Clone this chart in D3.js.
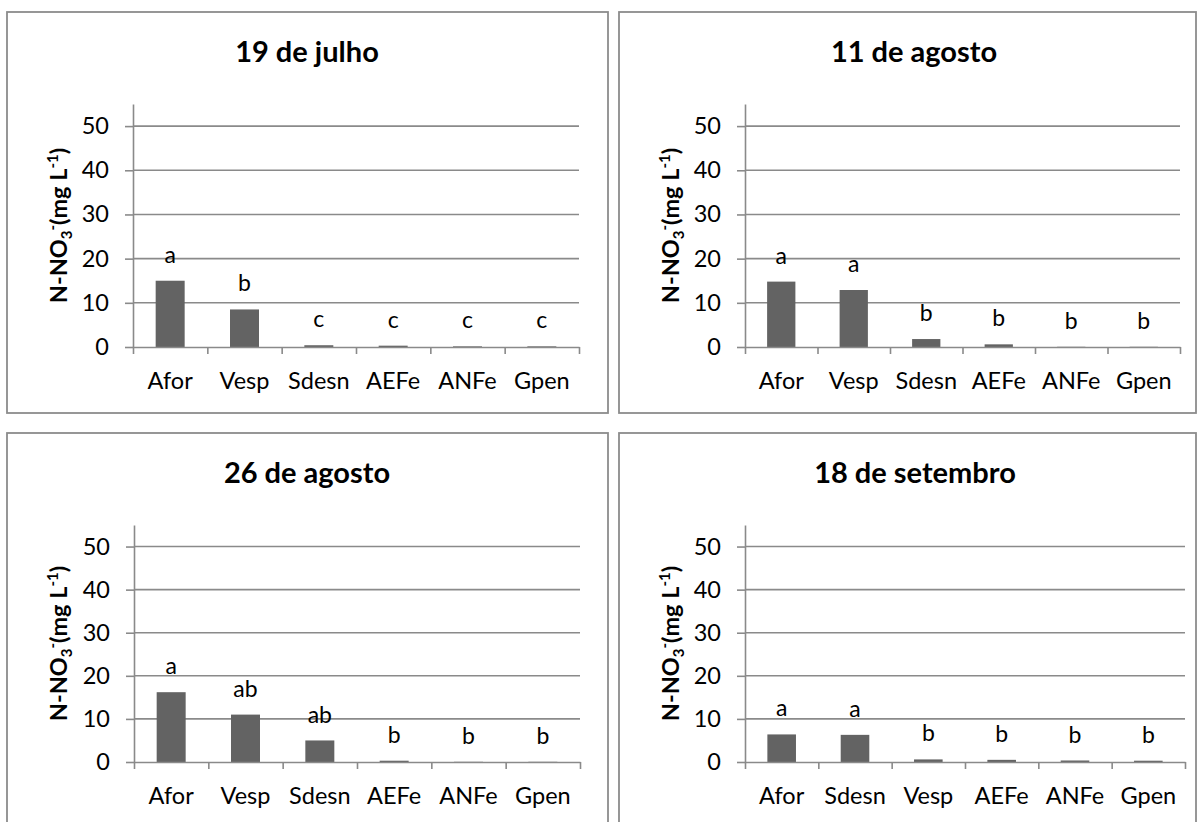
<!DOCTYPE html>
<html>
<head>
<meta charset="utf-8">
<script src="https://cdn.jsdelivr.net/npm/d3@7"></script>
<style>
  html, body { margin: 0; padding: 0; background: #fff; }
  svg { display: block; font-family: Lato, "Open Sans", sans-serif; }
</style>
</head>
<body>
<svg id="chart" width="1200" height="822"></svg>
<script>
// N-NO3- concentrations per treatment at four sampling dates
const titles = ["19 de julho", "11 de agosto", "26 de agosto", "18 de setembro"];

const categoriesJul19 = ["Afor", "Vesp", "Sdesn", "AEFe", "ANFe", "Gpen"];
const valuesJul19     = [15.0, 8.5, 0.4, 0.3, 0.15, 0.15];
const lettersJul19    = ["a", "b", "c", "c", "c", "c"];

const categoriesAug11 = ["Afor", "Vesp", "Sdesn", "AEFe", "ANFe", "Gpen"];
const valuesAug11     = [14.8, 12.9, 1.8, 0.6, 0.05, 0.05];
const lettersAug11    = ["a", "a", "b", "b", "b", "b"];

const categoriesAug26 = ["Afor", "Vesp", "Sdesn", "AEFe", "ANFe", "Gpen"];
const valuesAug26     = [16.2, 11.0, 5.0, 0.3, 0.05, 0.05];
const lettersAug26    = ["a", "ab", "ab", "b", "b", "b"];

const categoriesSep18 = ["Afor", "Sdesn", "Vesp", "AEFe", "ANFe", "Gpen"];
const valuesSep18     = [6.4, 6.3, 0.6, 0.5, 0.35, 0.3];
const lettersSep18    = ["a", "a", "b", "b", "b", "b"];

const yTickValues = [0, 10, 20, 30, 40, 50];
const yMax = 55;

// box: frame [x, y, w, h]; plot: [left, right, zero line, top of axis]; tc: title centre
const panels = [
  { title: titles[0], cats: categoriesJul19, vals: valuesJul19, letters: lettersJul19,
    box: [7, 12, 601, 401], plot: [133, 579, 347, 104], tc: 307 },
  { title: titles[1], cats: categoriesAug11, vals: valuesAug11, letters: lettersAug11,
    box: [619, 12, 577, 401], plot: [745, 1180, 347, 104], tc: 914 },
  { title: titles[2], cats: categoriesAug26, vals: valuesAug26, letters: lettersAug26,
    box: [7, 433, 601, 401], plot: [134, 580, 762, 525], tc: 307 },
  { title: titles[3], cats: categoriesSep18, vals: valuesSep18, letters: lettersSep18,
    box: [619, 433, 577, 401], plot: [745, 1185, 762, 525], tc: 915 }
];

const svg = d3.select("#chart");
const gridColor = "#8a8a8a";
const barColor = "#636363";

panels.forEach(p => {
  const [bx, by, bw, bh] = p.box;
  const [xl, xr, y0, yTop] = p.plot;
  const g = svg.append("g");

  // chart frame
  g.append("rect")
    .attr("x", bx).attr("y", by).attr("width", bw).attr("height", bh)
    .attr("fill", "#fff").attr("stroke", "#8c8c8c").attr("stroke-width", 1.8);

  // title
  g.append("text")
    .attr("x", p.tc).attr("y", by + 50)
    .attr("text-anchor", "middle")
    .attr("font-size", 29).attr("font-weight", 700)
    .attr("fill", "#000")
    .text(p.title);

  const y = d3.scaleLinear().domain([0, yMax]).range([y0, yTop]);
  const x = d3.scaleBand().domain(p.cats).range([xl, xr])
    .paddingInner(0.61).paddingOuter(0.305);
  const slots = d3.scaleLinear().domain([0, p.cats.length]).range([xl, xr]);

  // horizontal gridlines
  g.append("g").selectAll("line")
    .data(yTickValues.filter(v => v > 0))
    .join("line")
    .attr("x1", xl).attr("x2", xr)
    .attr("y1", d => y(d)).attr("y2", d => y(d))
    .attr("stroke", gridColor).attr("stroke-width", 1.6);

  const rows = p.cats.map((c, i) => ({ c, v: p.vals[i], l: p.letters[i] }));

  // bars
  g.append("g").selectAll("rect")
    .data(rows)
    .join("rect")
    .attr("x", d => x(d.c))
    .attr("width", x.bandwidth())
    .attr("y", d => y(d.v))
    .attr("height", d => y(0) - y(d.v))
    .attr("fill", barColor);

  // significance letters above bars
  g.append("g").selectAll("text")
    .data(rows)
    .join("text")
    .attr("x", d => x(d.c) + x.bandwidth() / 2)
    .attr("y", d => y(d.v) - 26)
    .attr("dy", "0.35em")
    .attr("text-anchor", "middle")
    .attr("font-size", 23)
    .attr("fill", "#000")
    .text(d => d.l);

  // y axis
  const yAxis = g.append("g")
    .attr("transform", `translate(${xl},0)`)
    .call(d3.axisLeft(y).tickValues(yTickValues).tickSize(8).tickSizeOuter(0).tickPadding(16));
  yAxis.select(".domain").attr("stroke", gridColor).attr("stroke-width", 1.6);
  yAxis.selectAll(".tick line").attr("stroke", gridColor).attr("stroke-width", 1.6);
  yAxis.selectAll(".tick text")
    .attr("font-size", 23.5).attr("font-family", "Lato, sans-serif").attr("fill", "#000");

  // x axis: line and category boundary ticks
  const xAxis = g.append("g")
    .attr("transform", `translate(0,${y0})`)
    .call(d3.axisBottom(slots).tickValues(d3.range(p.cats.length + 1))
      .tickSize(7).tickSizeOuter(0).tickFormat(""));
  xAxis.select(".domain").attr("stroke", gridColor).attr("stroke-width", 1.6);
  xAxis.selectAll(".tick line").attr("stroke", gridColor).attr("stroke-width", 1.6);

  // category labels
  g.append("g").selectAll("text")
    .data(p.cats)
    .join("text")
    .attr("x", d => x(d) + x.bandwidth() / 2)
    .attr("y", y0 + 42)
    .attr("text-anchor", "middle")
    .attr("font-size", 23.5)
    .attr("fill", "#000")
    .text(d => d);

  // y axis title: N-NO3-(mg L-1)
  const cy = (y0 + yTop) / 2;
  const cx = bx + 60;
  const t = g.append("text")
    .attr("transform", `translate(${cx},${cy}) rotate(-90)`)
    .attr("text-anchor", "middle")
    .attr("font-size", 23.5).attr("font-weight", 700)
    .attr("fill", "#000");
  t.append("tspan").text("N-NO");
  t.append("tspan").attr("font-size", 15).attr("dy", 5).text("3");
  t.append("tspan").attr("font-size", 15).attr("dy", -14).text("-");
  t.append("tspan").attr("dy", 9).text("(mg L");
  t.append("tspan").attr("font-size", 15).attr("dy", -9).text("-1");
  t.append("tspan").attr("dy", 9).text(")");
});
</script>
</body>
</html>
